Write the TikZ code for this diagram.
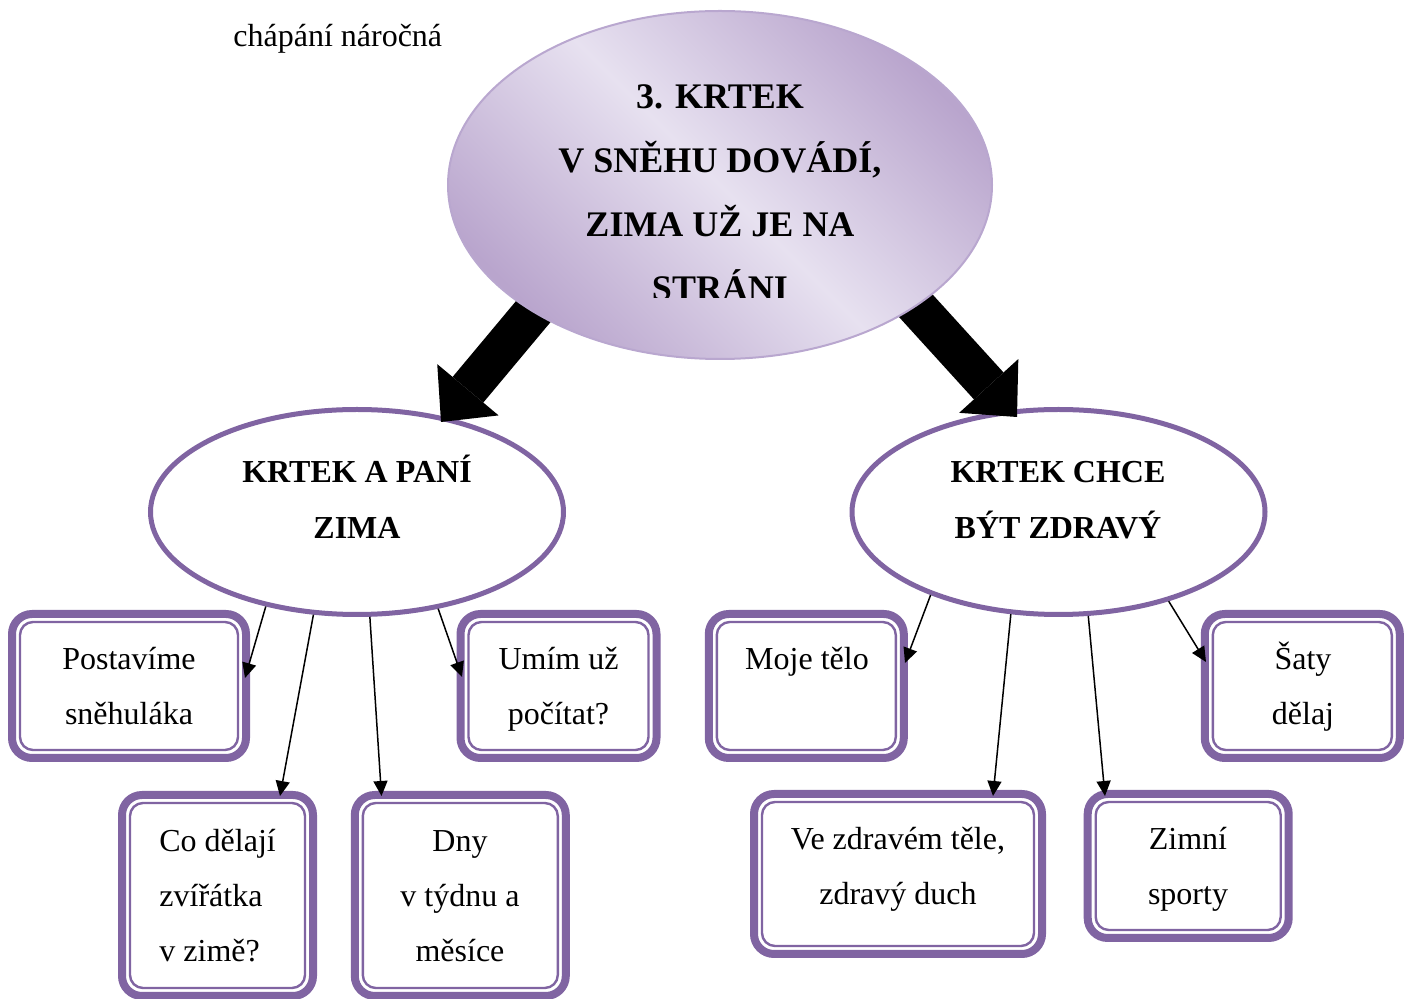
\documentclass[tikz,border=0pt]{standalone}
\usepackage{fontspec}
\setmainfont{Liberation Serif}
\usetikzlibrary{arrows.meta,shapes.geometric,calc}
\definecolor{kpurple}{HTML}{8064A2}
\definecolor{kedge}{HTML}{B9A7CF}
\definecolor{kdark}{HTML}{B9A5CD}
\definecolor{klight}{HTML}{E7E1F0}
\tikzset{
  subell/.style={ellipse, draw=kpurple, line width=2.5pt, fill=white,
    minimum width=206.5pt, minimum height=102.5pt, inner sep=0pt},
  topell/.style={ellipse, draw=kedge, line width=1pt,
    top color=kdark, bottom color=kdark, middle color=klight, shading angle=-45,
    minimum width=272pt, minimum height=174pt, inner sep=0pt},
  topic/.style={rectangle, draw=kpurple, line width=4pt, rounded corners=10pt,
    fill=white, inner sep=0pt, outer sep=0pt},
  innerline/.style={draw=kpurple, line width=1.2pt, rounded corners=6.5pt},
  bigarrow/.style={line width=20pt,
    -{Triangle[length=21pt 0 0,width=40pt 0 0,line width=0pt 0 0]}},
  thinarrow/.style={line width=0.75pt,
    -{Triangle[length=7.5pt 0 0,width=7pt 0 0]}},
  boxtxt/.style={font=\fontsize{16pt}{19pt}\selectfont, inner sep=0pt, anchor=base, yshift=-1pt},
  lefttxt/.style={boxtxt, anchor=base west},
  titletxt/.style={font=\bfseries\fontsize{18pt}{21pt}\selectfont, inner sep=0pt, anchor=base, yshift=-1pt},
  subtxt/.style={font=\bfseries\fontsize{16pt}{19pt}\selectfont, inner sep=0pt, anchor=base, yshift=-0.5pt},
}
\begin{document}
\begin{tikzpicture}[x=0.5pt,y=-0.5pt]
\useasboundingbox (0,0) rectangle (1410,999);

% caption
\node[lefttxt] (cap) at (233,45) {chápání náročná};

% sub ellipses
\node[subell] (L) at (357,512) {};
\node[subell] (R) at (1058.5,512) {};
\node[subtxt] (Lt1) at (357,482) {KRTEK A PANÍ};
\node[subtxt] (Lt2) at (357,538) {ZIMA};
\node[subtxt] (Rt1) at (1058,482) {KRTEK CHCE};
\node[subtxt] (Rt2) at (1058,538) {BÝT ZDRAVÝ};

% big arrows (start hidden under the top ellipse)
\coordinate (s1) at (558,282);
\coordinate (e1) at (441,422);
\coordinate (s2) at (886,273);
\coordinate (e2) at (1017,417);
\draw[bigarrow] (s1) -- (e1);
\draw[bigarrow] (s2) -- (e2);

% top ellipse
\node[topell] (T) at (720,185) {};
\begin{scope}
  \clip (440,0) rectangle (1000,297.5);
  \node[titletxt] (Tt1) at (720,107) {3. KRTEK};
  \node[titletxt] (Tt2) at (720,171) {V SNĚHU DOVÁDÍ,};
  \node[titletxt] (Tt3) at (720,235) {ZIMA UŽ JE NA};
  \node[titletxt] (Tt4) at (720,299) {STRÁNI};
\end{scope}

% topic boxes
\node[topic, minimum width=117pt, minimum height=72pt] (b1) at (129,686) {};
\node[topic, minimum width=98pt, minimum height=72pt] (b2) at (558.5,686) {};
\node[topic, minimum width=95.5pt, minimum height=100.5pt] (b3) at (217.5,895.5) {};
\node[topic, minimum width=105.5pt, minimum height=100.5pt] (b4) at (460.3,895.5) {};
\node[topic, minimum width=97.5pt, minimum height=72pt] (b5) at (806.3,686) {};
\node[topic, minimum width=144pt, minimum height=80pt] (b6) at (898,874) {};
\node[topic, minimum width=100.5pt, minimum height=72pt] (b7) at (1188.2,866) {};
\node[topic, minimum width=97.5pt, minimum height=72pt] (b8) at (1302.3,686) {};
\foreach \b in {b1,b2,b3,b4,b5,b6,b7,b8}
  \draw[innerline] ($(\b.north west)+(4pt,-4pt)$) rectangle ($(\b.south east)+(-4pt,4pt)$);

% box texts
\node[boxtxt] (x1a) at (129,668) {Postavíme};
\node[boxtxt] (x1b) at (129,723) {sněhuláka};
\node[boxtxt] (x2a) at (558.5,668) {Umím už};
\node[boxtxt] (x2b) at (558.5,723) {počítat?};
\node[lefttxt] (x3a) at (159,850) {Co dělají};
\node[lefttxt] (x3b) at (159,905) {zvířátka};
\node[lefttxt] (x3c) at (159,960) {v zimě?};
\node[boxtxt] (x4a) at (460,850) {Dny};
\node[boxtxt] (x4b) at (460,905) {v týdnu a};
\node[boxtxt] (x4c) at (460,960) {měsíce};
\node[boxtxt] (x5a) at (807,668) {Moje tělo};
\node[boxtxt] (x6a) at (898,848) {Ve zdravém těle,};
\node[boxtxt] (x6b) at (898,903) {zdravý duch};
\node[boxtxt] (x7a) at (1188,848) {Zimní};
\node[boxtxt] (x7b) at (1188,903) {sporty};
\node[boxtxt] (x8a) at (1303,668) {Šaty};
\node[boxtxt] (x8b) at (1303,723) {dělaj};

% thin arrows
\coordinate (t1) at (245,678);
\coordinate (t2) at (280,796);
\coordinate (t3) at (381.5,796);
\coordinate (t4) at (462,677);
\coordinate (t5) at (905,663);
\coordinate (t6) at (993,796);
\coordinate (t7) at (1105,796);
\coordinate (t8) at (1206,662);
\draw[thinarrow] (L.226) -- (t1);
\draw[thinarrow] (L.247) -- (t2);
\draw[thinarrow] (L.277) -- (t3);
\draw[thinarrow] (L.310) -- (t4);
\draw[thinarrow] (R.213) -- (t5);
\draw[thinarrow] (R.245) -- (t6);
\draw[thinarrow] (R.286) -- (t7);
\draw[thinarrow] (R.321) -- (t8);
\end{tikzpicture}
\end{document}
